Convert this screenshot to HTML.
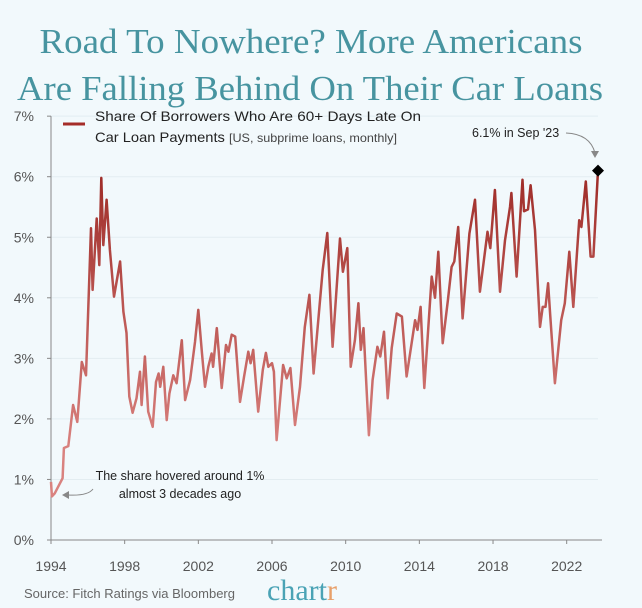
<!DOCTYPE html>
<html><head><meta charset="utf-8"><style>
body{margin:0;background:#f2f9fc;}
svg{display:block;font-family:"Liberation Sans",sans-serif;}
</style></head><body>
<svg id="chart" width="642" height="608" viewBox="0 0 642 608">
<rect width="642" height="608" fill="#f2f9fc"/>
<defs>
<linearGradient id="lg" gradientUnits="userSpaceOnUse" x1="0" y1="170" x2="0" y2="450">
<stop offset="0" stop-color="#9e2b27"/><stop offset="1" stop-color="#d9827f"/>
</linearGradient>
</defs>
<g fill="#4794a0" font-family="'Liberation Serif',serif" font-size="35" text-anchor="middle">
<text x="311" y="53" textLength="543" lengthAdjust="spacingAndGlyphs">Road To Nowhere? More Americans</text>
<text x="310" y="100" textLength="586" lengthAdjust="spacingAndGlyphs">Are Falling Behind On Their Car Loans</text>
</g>
<g id="grid"></g>
<g id="yaxis"></g>
<g id="xaxis"></g>
<path id="series" fill="none" stroke="url(#lg)" stroke-width="2.5" stroke-linejoin="round"/>
<g>
<line x1="63" y1="124" x2="85" y2="124" stroke="#a52d29" stroke-width="3"/>
<text x="95" y="121" font-size="14" fill="#222" textLength="326" lengthAdjust="spacingAndGlyphs">Share Of Borrowers Who Are 60+ Days Late On</text>
<text x="95" y="142" font-size="14" fill="#222" textLength="302" lengthAdjust="spacingAndGlyphs">Car Loan Payments <tspan font-size="12" fill="#444">[US, subprime loans, monthly]</tspan></text>
</g>
<g>
<text x="472" y="137" font-size="12.5" fill="#222">6.1% in Sep '23</text>
<path d="M566 133 Q590 134 595 153" fill="none" stroke="#888" stroke-width="1"/>
<path d="M591 151 L599 151 L595 158 Z" fill="#888"/>
<path id="marker" fill="#000"/>
</g>
<g font-size="12.5" fill="#222" text-anchor="middle">
<text x="180" y="480">The share hovered around 1%</text>
<text x="180" y="498">almost 3 decades ago</text>
<path d="M93 489 Q88 496 68 495" fill="none" stroke="#888" stroke-width="1"/>
<path d="M62 495 L69 491 L69 499 Z" fill="#888"/>
</g>
<text x="24" y="598" font-size="13" fill="#666">Source: Fitch Ratings via Bloomberg</text>
<text x="267" y="600" font-size="30" font-family="'Liberation Serif',serif" fill="#4aa3b5">chart<tspan fill="#e8a06a">r</tspan></text>
</svg>
<script>
const yTicks=[0,1,2,3,4,5,6,7];
const xTicks=[1994,1998,2002,2006,2010,2014,2018,2022];
const years=[1994.0,1994.05,1994.2,1994.63,1994.7,1994.94,1995.2,1995.43,1995.67,1995.9,1996.17,1996.26,1996.48,1996.62,1996.73,1996.84,1997.02,1997.2,1997.42,1997.75,1997.93,1998.1,1998.25,1998.43,1998.64,1998.83,1998.92,1999.1,1999.28,1999.52,1999.7,1999.84,1999.93,2000.1,2000.28,2000.43,2000.64,2000.82,2001.1,2001.28,2001.55,2001.82,2002.0,2002.2,2002.36,2002.54,2002.72,2002.8,2003.0,2003.27,2003.5,2003.63,2003.81,2004.0,2004.26,2004.48,2004.71,2004.84,2004.98,2005.25,2005.5,2005.67,2005.8,2006.0,2006.1,2006.25,2006.6,2006.8,2007.0,2007.25,2007.52,2007.78,2008.03,2008.26,2008.75,2009.0,2009.29,2009.69,2009.85,2010.09,2010.27,2010.5,2010.69,2010.82,2010.97,2011.26,2011.46,2011.72,2011.88,2012.08,2012.28,2012.5,2012.77,2013.05,2013.31,2013.77,2013.9,2014.07,2014.27,2014.67,2014.85,2015.03,2015.27,2015.55,2015.75,2015.9,2016.11,2016.35,2016.72,2017.02,2017.29,2017.7,2017.85,2018.1,2018.38,2018.65,2018.92,2019.0,2019.28,2019.6,2019.68,2019.9,2020.04,2020.28,2020.55,2020.7,2020.85,2020.99,2021.1,2021.36,2021.55,2021.7,2021.9,2022.14,2022.36,2022.68,2022.8,2023.04,2023.3,2023.45,2023.7];
const values=[0.96,0.72,0.77,1.02,1.52,1.55,2.23,1.95,2.94,2.72,5.15,4.13,5.31,4.54,5.98,4.87,5.62,4.79,4.02,4.6,3.77,3.42,2.37,2.1,2.34,2.78,2.23,3.03,2.12,1.87,2.61,2.75,2.53,2.86,1.98,2.42,2.72,2.59,3.3,2.31,2.64,3.27,3.8,3.08,2.53,2.86,3.08,2.86,3.5,2.51,3.22,3.11,3.39,3.36,2.28,2.69,3.11,2.92,3.14,2.12,2.81,3.09,2.86,2.92,2.78,1.65,2.89,2.67,2.84,1.9,2.53,3.52,4.05,2.75,4.46,5.07,3.19,4.98,4.43,4.82,2.86,3.3,3.91,3.14,3.5,1.73,2.64,3.19,3.03,3.44,2.34,3.17,3.74,3.69,2.7,3.63,3.47,3.85,2.51,4.35,4.0,4.76,3.25,3.96,4.51,4.6,5.17,3.66,5.06,5.62,4.1,5.09,4.82,5.78,4.1,4.95,5.5,5.73,4.35,5.95,5.43,5.46,5.86,5.12,3.52,3.85,3.85,4.24,3.74,2.59,3.17,3.63,3.91,4.76,3.85,5.28,5.17,5.92,4.68,4.68,6.1];
const X0=51,X1=598,Y0=540,PX=(X1-X0)/(2023.7-1994);
const xs=y=>X0+(y-1994)*PX, ys=v=>Y0-v*60.55;
const NS="http://www.w3.org/2000/svg";
const grid=document.getElementById('grid'),ya=document.getElementById('yaxis'),xa=document.getElementById('xaxis');
yTicks.forEach(t=>{
  if(t>0){const l=document.createElementNS(NS,'line');
  
  
  l.setAttribute('x1',X0);l.setAttribute('x2',X1);l.setAttribute('y1',ys(t));l.setAttribute('y2',ys(t));
  l.setAttribute('stroke','#e3edf1');l.setAttribute('stroke-width','1');grid.appendChild(l);}
  const tk=document.createElementNS(NS,'line');
  
  
  tk.setAttribute('x1',X0-4);tk.setAttribute('x2',X0);tk.setAttribute('y1',ys(t));tk.setAttribute('y2',ys(t));
  tk.setAttribute('stroke','#888');ya.appendChild(tk);
  const tx=document.createElementNS(NS,'text');
  
  
  tx.setAttribute('x',34);tx.setAttribute('y',ys(t)+5);tx.setAttribute('text-anchor','end');
  tx.setAttribute('font-size','14');tx.setAttribute('fill','#555');tx.textContent=t+'%';ya.appendChild(tx);
});
const yl=document.createElementNS(NS,'line');


yl.setAttribute('x1',X0);yl.setAttribute('x2',X0);yl.setAttribute('y1',ys(7));yl.setAttribute('y2',Y0);yl.setAttribute('stroke','#888');ya.appendChild(yl);
const xl=document.createElementNS(NS,'line');


xl.setAttribute('x1',X0);xl.setAttribute('x2',X1+4);xl.setAttribute('y1',Y0);xl.setAttribute('y2',Y0);xl.setAttribute('stroke','#888');xa.appendChild(xl);
xTicks.forEach(t=>{
  const tk=document.createElementNS(NS,'line');
  
  
  tk.setAttribute('x1',xs(t));tk.setAttribute('x2',xs(t));tk.setAttribute('y1',Y0);tk.setAttribute('y2',Y0+4);tk.setAttribute('stroke','#888');xa.appendChild(tk);
  const tx=document.createElementNS(NS,'text');
  
  
  tx.setAttribute('x',xs(t));tx.setAttribute('y',Y0+31);tx.setAttribute('text-anchor','middle');
  tx.setAttribute('font-size','14');tx.setAttribute('fill','#555');tx.textContent=t;xa.appendChild(tx);
});
document.getElementById('series').setAttribute('d',years.map((y,i)=>(i?'L':'M')+xs(y).toFixed(1)+' '+ys(values[i]).toFixed(1)).join(''));
const lx=xs(years[years.length-1]),ly=ys(values[values.length-1]);
document.getElementById('marker').setAttribute('d',`M${lx} ${ly-6}L${lx+6} ${ly}L${lx} ${ly+6}L${lx-6} ${ly}Z`);
</script>
</body></html>
